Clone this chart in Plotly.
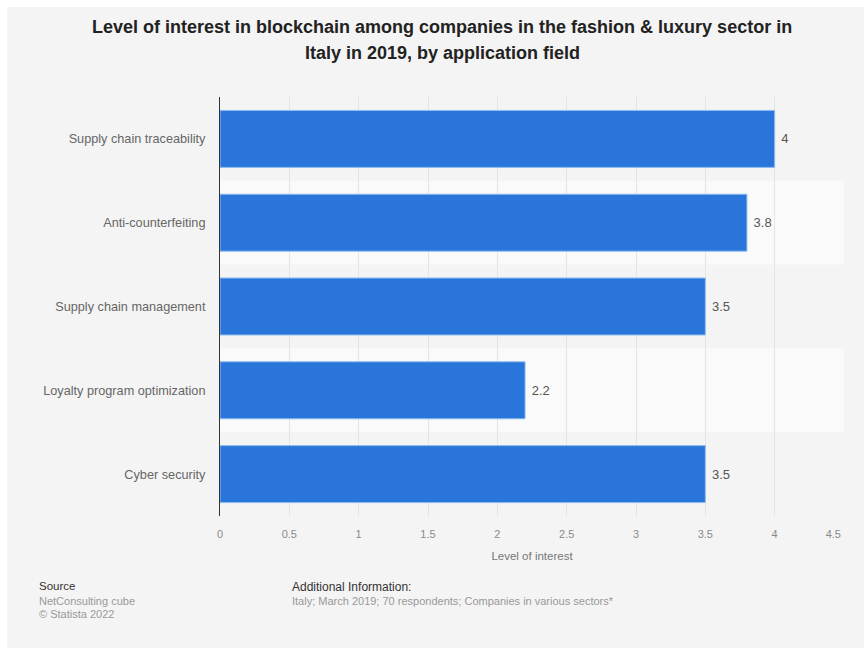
import plotly.graph_objects as go

# Survey results: level of interest per blockchain application field
fields = [
    "Supply chain traceability",
    "Anti-counterfeiting",
    "Supply chain management",
    "Loyalty program optimization",
    "Cyber security",
]
interest = [4, 3.8, 3.5, 2.2, 3.5]
x_ticks = [0, 0.5, 1, 1.5, 2, 2.5, 3, 3.5, 4, 4.5]
x_tick_labels = ["0", "0.5", "1", "1.5", "2", "2.5", "3", "3.5", "4", "4.5"]

W, H = 864, 648
L, R, T, B = 220, 20, 97, 132
FONT = "Liberation Sans, Arial, sans-serif"
PANEL = "#f4f4f4"
BAND = "#fafafa"
BAR = "#2a75d9"
NBSP = "\u00a0"


def px_x(p):
    return (p - L) / (W - L - R)


def px_y(p):
    return 1 - (p - T) / (H - T - B)


# last tick label is nudged left so it stays inside the panel
tick_text = list(x_tick_labels)
tick_text[-1] = tick_text[-1] + NBSP * 7

fig = go.Figure()
fig.add_trace(go.Bar(
    x=interest,
    y=fields,
    orientation="h",
    width=0.68,
    marker=dict(color=BAR, line=dict(color="#8fbdf0", width=1)),
    text=[NBSP + f"{v:g}" for v in interest],
    textposition="outside",
    textfont=dict(family=FONT, size=13, color="#555555"),
    cliponaxis=False,
    hoverinfo="skip",
))

# Thin white strips along the top and left page edges, then alternating row bands
shapes = [
    dict(type="rect", xref="paper", yref="paper", layer="below",
         x0=px_x(0), x1=px_x(W), y0=px_y(7), y1=px_y(0),
         fillcolor="#ffffff", line=dict(width=0)),
    dict(type="rect", xref="paper", yref="paper", layer="below",
         x0=px_x(0), x1=px_x(7), y0=px_y(H), y1=px_y(0),
         fillcolor="#ffffff", line=dict(width=0)),
]
for i, _ in enumerate(fields):
    if i % 2 == 1:
        shapes.append(dict(
            type="rect", xref="paper", yref="y", layer="below",
            x0=0, x1=1, y0=i - 0.5, y1=i + 0.5,
            fillcolor=BAND, line=dict(width=0),
        ))


def note(text, x, y, size, color, anchor="left"):
    return dict(text=text, xref="paper", yref="paper", x=px_x(x), y=px_y(y),
                xanchor=anchor, yanchor="middle", showarrow=False,
                font=dict(family=FONT, size=size, color=color))


annotations = [
    note("<b>Level of interest in blockchain among companies in the fashion & luxury sector in</b>",
         442, 27, 18, "#222222", "center"),
    note("<b>Italy in 2019, by application field</b>", 442, 53, 18, "#222222", "center"),
    note("Source", 37, 586, 11.5, "#333333"),
    note("NetConsulting cube", 37, 601, 11, "#999999"),
    note("© Statista 2022", 37, 614, 11, "#999999"),
    note("Additional Information:", 290, 587, 12, "#333333"),
    note("Italy; March 2019; 70 respondents; Companies in various sectors*", 290, 601, 11, "#999999"),
]

fig.update_layout(
    width=W, height=H,
    margin=dict(l=L, r=R, t=T, b=B, pad=0, autoexpand=False),
    paper_bgcolor=PANEL, plot_bgcolor=PANEL,
    showlegend=False,
    shapes=shapes,
    annotations=annotations,
    xaxis=dict(
        range=[0, 4.5],
        tickvals=x_ticks, ticktext=tick_text,
        showgrid=True, gridcolor="#e4e4e4", gridwidth=1,
        zeroline=False, showline=False, ticks="",
        ticklabelstandoff=10, automargin=False,
        tickfont=dict(family=FONT, size=11, color="#8a8a8a"),
        title=dict(text="Level of interest", standoff=12,
                   font=dict(family=FONT, size=11.5, color="#777777")),
        fixedrange=True,
    ),
    yaxis=dict(
        autorange="reversed",
        showgrid=False, zeroline=False,
        showline=True, linecolor="#333333", linewidth=1,
        ticks="", ticklabelstandoff=11, automargin=False,
        tickfont=dict(family=FONT, size=12.7, color="#666666"),
        fixedrange=True,
    ),
)

fig.write_html("out.html")
